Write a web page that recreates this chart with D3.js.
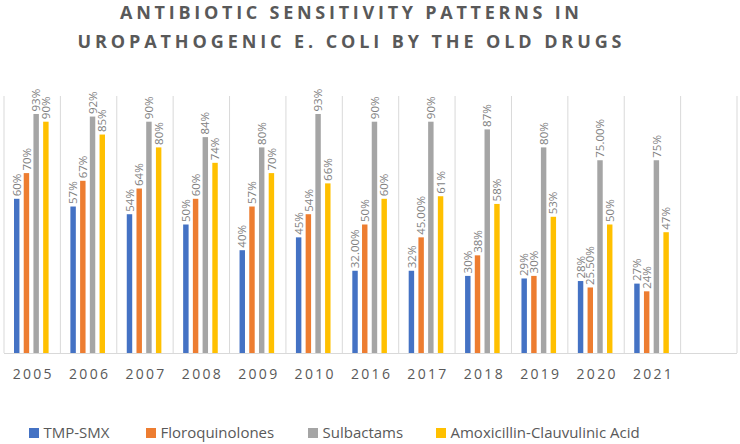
<!DOCTYPE html>
<html>
<head>
<meta charset="utf-8">
<script src="https://cdn.jsdelivr.net/npm/d3@7/dist/d3.min.js"></script>
<style>
  html, body { margin: 0; padding: 0; background: #fff; }
  svg { display: block; font-family: "Open Sans", "Noto Sans", sans-serif; }
</style>
</head>
<body>
<svg id="chart" width="740" height="444"></svg>
<script>
// ---- data ----
const categories = ["2005","2006","2007","2008","2009","2010","2016","2017","2018","2019","2020","2021",""];
const seriesNames = ["TMP-SMX","Floroquinolones","Sulbactams","Amoxicillin-Clauvulinic Acid"];
const seriesColors = ["#4472C4","#ED7D31","#A5A5A5","#FFC000"];
const tmpSmx =      [0.60,0.57,0.54,0.50,0.40,0.45,0.32,0.32,0.30,0.29,0.28,0.27];
const floroq =      [0.70,0.67,0.64,0.60,0.57,0.54,0.50,0.45,0.38,0.30,0.255,0.24];
const sulbactams =  [0.93,0.92,0.90,0.84,0.80,0.93,0.90,0.90,0.87,0.80,0.75,0.75];
const amoxClav =    [0.90,0.85,0.80,0.74,0.70,0.66,0.60,0.61,0.58,0.53,0.50,0.47];
const tmpSmxLabels = ["60%","57%","54%","50%","40%","45%","32.00%","32%","30%","29%","28%","27%"];
const floroqLabels = ["70%","67%","64%","60%","57%","54%","50%","45.00%","38%","30%","25.50%","24%"];
const sulbLabels =   ["93%","92%","90%","84%","80%","93%","90%","90%","87%","80%","75.00%","75%"];
const amoxLabels =   ["90%","85%","80%","74%","70%","66%","60%","61%","58%","53%","50%","47%"];
const titleLines = ["ANTIBIOTIC SENSITIVITY PATTERNS IN","UROPATHOGENIC E. COLI BY THE OLD DRUGS"];

const seriesValues = [tmpSmx, floroq, sulbactams, amoxClav];
const seriesLabels = [tmpSmxLabels, floroqLabels, sulbLabels, amoxLabels];

// ---- layout ----
const svg = d3.select("#chart");
const plot = {left: 4, right: 737, top: 96, bottom: 353};

const x = d3.scaleBand().domain(categories).range([plot.left, plot.right]).padding(0);
const inner = d3.scaleBand().domain(d3.range(seriesNames.length))
  .range([10, 44.6]).paddingInner(0.44).paddingOuter(0);
const y = d3.scaleLinear().domain([0, 1]).range([plot.bottom, plot.top]);

// title
const titleY = [19.3, 47.5];
svg.append("g").selectAll("text").data(titleLines).join("text")
  .attr("x", 349.5)
  .attr("y", (d, i) => titleY[i])
  .attr("text-anchor", "middle")
  .attr("font-size", 18)
  .attr("font-weight", "bold")
  .attr("fill", "#595959")
  .attr("textLength", (d, i) => i === 0 ? 459 : 544)
  .attr("lengthAdjust", "spacing")
  .text(d => d);

// vertical gridlines at category boundaries
const bounds = categories.map(c => x(c)).concat([plot.right]);
svg.append("g").selectAll("line").data(bounds).join("line")
  .attr("x1", d => d).attr("x2", d => d)
  .attr("y1", plot.top).attr("y2", plot.bottom)
  .attr("stroke", "#D9D9D9").attr("stroke-width", 1);

// bars
const rows = [];
seriesValues.forEach((vals, s) => {
  vals.forEach((v, i) => rows.push({s, cat: categories[i], v, label: seriesLabels[s][i]}));
});

svg.append("g").selectAll("rect").data(rows).join("rect")
  .attr("x", d => x(d.cat) + inner(d.s))
  .attr("width", inner.bandwidth())
  .attr("y", d => y(d.v))
  .attr("height", d => y(0) - y(d.v))
  .attr("fill", d => seriesColors[d.s]);

// data labels (rotated)
svg.append("g").selectAll("text").data(rows).join("text")
  .attr("transform", d => `translate(${x(d.cat) + inner(d.s) + inner.bandwidth() / 2},${y(d.v) - 2.5}) rotate(-90)`)
  .attr("dy", "0.36em")
  .attr("font-size", 11.5)
  .attr("fill", "#7F7F7F")
  .text(d => d.label);

// baseline
svg.append("line")
  .attr("x1", plot.left).attr("x2", plot.right)
  .attr("y1", plot.bottom + 0.5).attr("y2", plot.bottom + 0.5)
  .attr("stroke", "#D9D9D9").attr("stroke-width", 1);

// x axis labels
const xAxis = d3.axisBottom(x).tickSize(0).tickPadding(16);
const gx = svg.append("g").attr("transform", `translate(0,${plot.bottom})`).call(xAxis);
gx.select(".domain").remove();
gx.selectAll("text")
  .attr("font-family", "\"Open Sans\", sans-serif")
  .attr("font-size", 14)
  .attr("fill", "#595959")
  .attr("letter-spacing", "2.3px")
  .attr("dx", "1.1px");

// legend
const legendX = [29, 146, 308, 436];
const lg = svg.append("g").selectAll("g").data(seriesNames).join("g")
  .attr("transform", (d, i) => `translate(${legendX[i]},428)`);
lg.append("rect").attr("width", 10).attr("height", 10).attr("fill", (d, i) => seriesColors[i]);
lg.append("text").attr("x", 14.5).attr("y", 10.3)
  .attr("font-size", 15).attr("fill", "#595959").text(d => d);
</script>
</body>
</html>
